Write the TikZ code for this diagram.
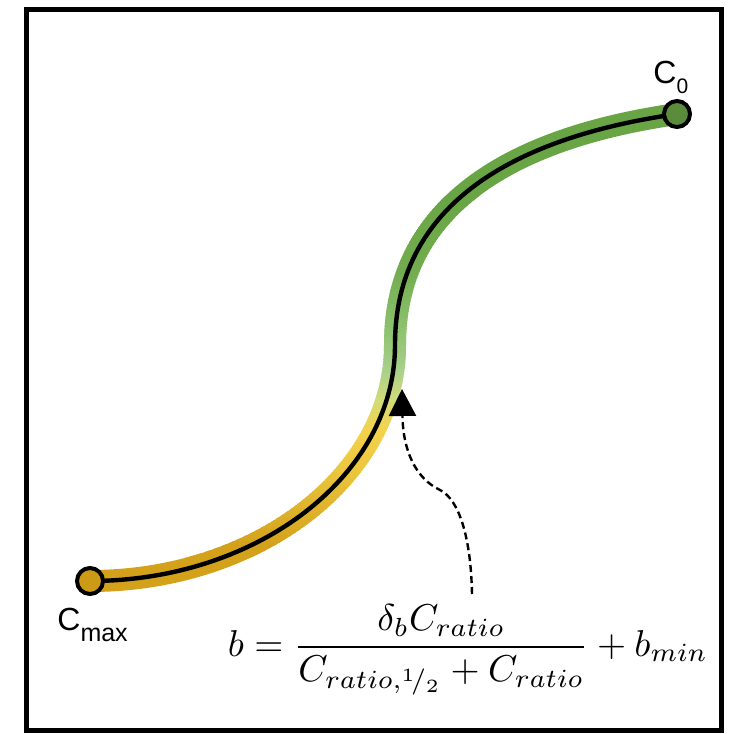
\documentclass[tikz,border=0pt]{standalone}
\usepackage{fontspec}
\usepackage{graphicx}
\newfontfamily\labfont{Liberation Sans}
\usetikzlibrary{arrows.meta}
\pgfdeclarelayer{background}
\pgfsetlayers{background,main}
\definecolor{c1}{HTML}{6AA545}
\definecolor{c2}{HTML}{72AC4E}
\definecolor{c3}{HTML}{8DC26E}
\definecolor{c4}{HTML}{A8D08A}
\definecolor{c5}{HTML}{D2DC78}
\definecolor{c6}{HTML}{F4D24C}
\definecolor{c7}{HTML}{EBC73E}
\definecolor{c8}{HTML}{DDB02A}
\definecolor{c9}{HTML}{D4A11A}
\definecolor{czerofill}{HTML}{5A8C3C}
\definecolor{cmaxfill}{HTML}{CC9A14}
\newcommand\mixseg[4]{\pgfmathsetmacro\pp{(\py-#1)/(#2-#1)*100}\colorlet{segc}{#4!\pp!#3}}
\newcommand\segcolor{%
  \ifdim\py pt<200pt \colorlet{segc}{c1}%
  \else\ifdim\py pt<270pt \mixseg{200}{270}{c1}{c2}%
  \else\ifdim\py pt<330pt \mixseg{270}{330}{c2}{c3}%
  \else\ifdim\py pt<370pt \mixseg{330}{370}{c3}{c4}%
  \else\ifdim\py pt<400pt \mixseg{370}{400}{c4}{c5}%
  \else\ifdim\py pt<430pt \mixseg{400}{430}{c5}{c6}%
  \else\ifdim\py pt<470pt \mixseg{430}{470}{c6}{c7}%
  \else\ifdim\py pt<515pt \mixseg{470}{515}{c7}{c8}%
  \else\ifdim\py pt<545pt \mixseg{515}{545}{c8}{c9}%
  \else \colorlet{segc}{c9}%
  \fi\fi\fi\fi\fi\fi\fi\fi\fi}
\tikzset{
  bandseg/.style={line width=11pt, line cap=round},
  coreline/.style={line width=2.2pt, draw=black},
  enddot/.style={circle, draw=black, line width=2pt, minimum size=13pt, inner sep=0pt},
  lab/.style={font=\labfont\fontsize{16}{18}\selectfont, inner sep=0pt},
  dashedarrow/.style={line width=1.2pt, dash pattern=on 3.5pt off 2pt, -{Triangle[width=13.5pt,length=13.5pt]}},
  frame/.style={line width=2.5pt}
}
\begin{document}
\begin{tikzpicture}[x=0.5pt,y=-0.5pt]
\useasboundingbox (0,0) rectangle (731,734);
\draw[frame] (26,9) rectangle (721,730);
% end points
\node[enddot, fill=cmaxfill] (cmax) at (90,581) {};
\node[enddot, fill=czerofill] (czero) at (677,114) {};
\coordinate (mid) at (395,345);
% labels
\node[lab, anchor=base west] (c0lab) at (653,83) {C\raisebox{-5pt}{\fontsize{10.5}{12}\selectfont 0}};
\node[lab, anchor=base west] (cmaxlab) at (57,630) {C\raisebox{-5.5pt}{\fontsize{12.5}{14}\selectfont max}};
% band and line
\begin{pgfonlayer}{background}
\begin{scope}
  \clip (0,0) rectangle (731,198);
  \draw[bandseg, draw=c1] (cmax.center) .. controls (258,581) and (395,475) .. (mid) .. controls (395,195) and (530,135) .. (czero.center);
\end{scope}
\foreach \k in {0,...,119} {
  \pgfmathsetmacro\ytop{196+3*\k}
  \pgfmathsetmacro\ybot{\ytop+4}
  \pgfmathsetmacro\py{\ytop+1.5}
  \segcolor
  \begin{scope}
    \clip (0,\ytop) rectangle (731,\ybot);
    \draw[bandseg, draw=segc] (cmax.center) .. controls (258,581) and (395,475) .. (mid) .. controls (395,195) and (530,135) .. (czero.center);
  \end{scope}
}
\begin{scope}
  \clip (0,555) rectangle (731,734);
  \draw[bandseg, draw=c9] (cmax.center) .. controls (258,581) and (395,475) .. (mid) .. controls (395,195) and (530,135) .. (czero.center);
\end{scope}
\draw[coreline] (cmax.center) .. controls (258,581) and (395,475) .. (mid) .. controls (395,195) and (530,135) .. (czero.center);
\end{pgfonlayer}
% formula
\node[inner sep=0pt] (formula) at (468,650) {\resizebox{240pt}{!}{$\displaystyle b=\frac{\delta_b C_{ratio}}{C_{ratio,{}^{1}\!/_{2}}+C_{ratio}}+b_{min}$}};
% dashed arrow
\coordinate (dstart) at (472,594);
\coordinate (tip) at (402,389);
\draw[dashedarrow] (dstart) .. controls (471,540) and (460,500) .. (440,490) .. controls (415,478) and (403,450) .. (tip);
\end{tikzpicture}
\end{document}
